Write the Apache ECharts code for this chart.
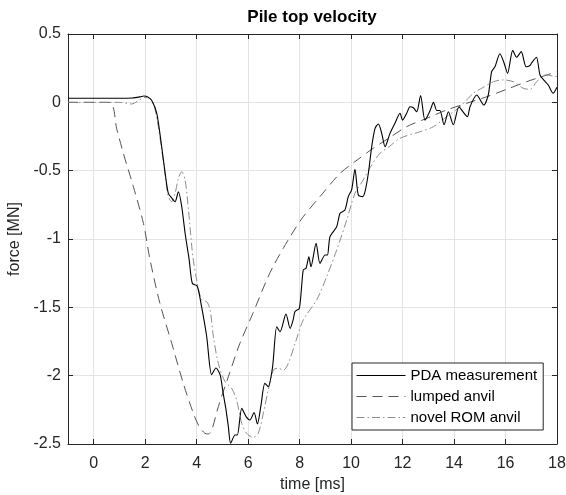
<!DOCTYPE html>
<html>
<head>
<meta charset="utf-8">
<script src="https://cdn.jsdelivr.net/npm/echarts@6/dist/echarts.min.js"></script>
<style>
  html, body { margin: 0; padding: 0; background: #fff; }
  #chart { width: 566px; height: 495px; }
</style>
</head>
<body>
<div id="chart"></div>
<script>
const timePDA = [-1, 0, 1, 1.5, 1.8, 1.95, 2.1, 2.25, 2.45, 2.64, 2.81, 2.9, 3.03, 3.16, 3.29, 3.42, 3.55, 3.71, 3.83, 4.02,
  4.19, 4.39, 4.58, 4.75, 4.91, 5.03, 5.14, 5.23, 5.32, 5.49, 5.58, 5.75, 5.92, 6.07, 6.23, 6.36, 6.49, 6.65, 6.78, 6.95,
  7.11, 7.24, 7.47, 7.63, 7.75, 7.82, 7.99, 8.14, 8.25, 8.36, 8.44, 8.64, 8.79, 8.99, 9.08, 9.18, 9.44, 9.57, 9.76, 9.89,
  10.02, 10.15, 10.28, 10.45, 10.54, 10.67, 10.8, 10.93, 11.06, 11.19, 11.32, 11.51, 11.7, 11.9, 12.0, 12.16, 12.29, 12.42, 12.55, 12.7,
  12.87, 13.07, 13.2, 13.33, 13.45, 13.61, 13.78, 13.97, 14.19, 14.35, 14.52, 14.62, 14.88, 15.16, 15.33, 15.46, 15.59, 15.78, 15.94, 16.08,
  16.28, 16.43, 16.61, 16.8, 16.95, 17.02, 17.2, 17.34, 17.5, 17.66, 17.85, 18];
const forcePDA = [0.03, 0.03, 0.03, 0.032, 0.04, 0.046, 0.04, 0.015, -0.08, -0.325, -0.568, -0.666, -0.7, -0.727, -0.654, -0.764, -0.958, -1.154, -1.324, -1.344,
  -1.495, -1.715, -1.993, -1.944, -1.993, -2.13, -2.25, -2.373, -2.495, -2.434, -2.434, -2.239, -2.3, -2.324, -2.27, -2.354, -2.227, -2.056, -2.08, -1.934,
  -1.642, -1.678, -1.549, -1.654, -1.59, -1.53, -1.507, -1.227, -1.214, -1.13, -1.203, -1.032, -1.178, -1.117, -1.117, -0.983, -0.91, -0.812, -0.788, -0.69,
  -0.641, -0.49, -0.678, -0.69, -0.654, -0.519, -0.325, -0.19, -0.159, -0.227, -0.325, -0.227, -0.154, -0.08, -0.13, -0.08, -0.032, -0.04, -0.069, 0.05,
  -0.13, -0.06, 0.0, -0.06, -0.06, -0.164, -0.069, -0.164, -0.032, -0.07, -0.105, -0.032, 0.054, -0.02, 0.054, 0.225, 0.26, 0.355, 0.29, 0.212,
  0.38, 0.33, 0.371, 0.26, 0.27, 0.29, 0.33, 0.2, 0.16, 0.127, 0.066, 0.11];

// lumped anvil model
const timeLumped = [-1, 0.6, 0.9, 1.15, 1.54, 1.93, 2.19, 2.57, 3.03, 3.48, 3.87, 4.1, 4.32, 4.45, 4.58, 4.84, 5.23, 5.68, 6.17, 6.72, 7.0,
  7.63, 8.14, 8.79, 9.57, 10.15, 10.86, 11.4, 12.16, 12.94, 13.71, 14.49, 15.27, 16.04, 16.82, 17.6, 18];
const forceLumped = [0, 0, -0.2, -0.373, -0.617, -0.885, -1.154, -1.47, -1.763, -2.056, -2.275, -2.373, -2.422, -2.427, -2.4, -2.227, -2.008, -1.763, -1.55, -1.3, -1.19,
  -0.983, -0.837, -0.69, -0.52, -0.434, -0.336, -0.27, -0.178, -0.117, -0.056, -0.007, 0.041, 0.095, 0.151, 0.2, 0.224];

// novel ROM anvil model
const timeROM = [-1, 1.0, 1.47, 1.8, 2.0, 2.15, 2.31, 2.51, 2.73, 2.9, 3.03, 3.16, 3.3, 3.42, 3.55, 3.68, 3.81, 3.87, 4.0, 4.19,
  4.39, 4.52, 4.65, 4.84, 5.1, 5.36, 5.55, 5.75, 5.94, 6.2, 6.39, 6.59, 6.78, 6.98, 7.17, 7.37, 7.56, 7.85, 8.14, 8.66,
  9.05, 9.44, 9.83, 10.15, 10.47, 10.8, 11.12, 11.45, 11.9, 12.68, 13.2, 13.71, 14.23, 14.75, 15.14, 15.53, 15.91, 16.3, 16.69, 16.95,
  17.21, 17.53, 18];
const forceROM = [0, 0, -0.012, 0.02, 0.036, 0.03, 0.0, -0.178, -0.47, -0.69, -0.727, -0.666, -0.55, -0.508, -0.568, -0.788, -1.056, -1.154, -1.3, -1.446,
  -1.459, -1.517, -1.715, -1.91, -2.044, -2.093, -2.178, -2.349, -2.422, -2.451, -2.422, -2.275, -2.105, -1.959, -1.946, -1.959, -1.91, -1.75, -1.593, -1.446,
  -1.276, -1.08, -0.861, -0.666, -0.568, -0.458, -0.373, -0.329, -0.263, -0.215, -0.178, -0.105, -0.032, 0.066, 0.11, 0.151, 0.164, 0.151, 0.103, 0.095,
  0.151, 0.2, 0.188];

const seriesNames = ['PDA measurement', 'lumped anvil', 'novel ROM anvil'];

const pairs = (xs, ys) => xs.map((x, i) => [x, ys[i]]);

const font = 'Liberation Sans, Arial, Helvetica, sans-serif';
const ink = '#262626';

const chart = echarts.init(document.getElementById('chart'));

const boxAxis = {
  axisLine: { show: true, onZero: false, lineStyle: { color: ink, width: 1 } },
  axisTick: { show: true, inside: true, length: 5, lineStyle: { color: ink } },
};

const option = {
  animation: false,
  backgroundColor: '#fff',
  title: {
    text: 'Pile top velocity',
    left: 312,
    textAlign: 'center',
    top: 9,
    padding: 0,
    textStyle: { fontFamily: font, fontSize: 17, fontWeight: 'bold', color: '#000' }
  },
  grid: { left: 68, right: 9, top: 34, bottom: 51, containLabel: false, outerBoundsMode: 'none' },
  legend: {
    data: seriesNames,
    orient: 'vertical',
    left: 352,
    top: 363,
    padding: [5, 6, 5, 4],
    itemGap: 6,
    itemWidth: 49,
    itemHeight: 14,
    borderColor: ink,
    borderWidth: 1,
    backgroundColor: '#fff',
    borderRadius: 0,
    itemStyle: { opacity: 0 },
    lineStyle: { width: 1 },
    textStyle: { fontFamily: font, fontSize: 15, color: '#000' }
  },
  xAxis: [
    Object.assign({
      type: 'value',
      position: 'bottom',
      min: -1,
      max: 18,
      splitNumber: 10,
      name: 'time [ms]',
      nameLocation: 'middle',
      nameGap: 33,
      nameTextStyle: { fontFamily: font, fontSize: 16, color: ink },
      axisLabel: {
        fontFamily: font, fontSize: 16, color: ink, margin: 12,
        formatter: v => (v === -1 ? '' : String(v))
      },
      splitLine: { show: true, lineStyle: { color: '#e3e3e3', width: 1 } }
    }, boxAxis),
    Object.assign({
      type: 'value',
      position: 'top',
      min: -1,
      max: 18,
      splitNumber: 10,
      axisLabel: { show: false },
      splitLine: { show: false }
    }, boxAxis)
  ],
  yAxis: [
    Object.assign({
      type: 'value',
      position: 'left',
      min: -2.5,
      max: 0.5,
      interval: 0.5,
      name: 'force [MN]',
      nameLocation: 'middle',
      nameGap: 45,
      nameTextStyle: { fontFamily: font, fontSize: 16, color: ink },
      axisLabel: { fontFamily: font, fontSize: 16, color: ink, margin: 7 },
      splitLine: { show: true, lineStyle: { color: '#e3e3e3', width: 1 } }
    }, boxAxis),
    Object.assign({
      type: 'value',
      position: 'right',
      min: -2.5,
      max: 0.5,
      interval: 0.5,
      axisLabel: { show: false },
      splitLine: { show: false }
    }, boxAxis)
  ],
  series: [
    {
      name: seriesNames[0],
      type: 'line',
      data: pairs(timePDA, forcePDA),
      symbol: 'none',
      smooth: 0.25,
      lineStyle: { color: '#000', width: 1.1 },
      itemStyle: { color: '#000' },
      z: 4
    },
    {
      name: seriesNames[1],
      type: 'line',
      data: pairs(timeLumped, forceLumped),
      symbol: 'none',
      smooth: 0.3,
      lineStyle: { color: '#555', width: 1, type: [10, 6] },
      itemStyle: { color: '#555' },
      z: 3
    },
    {
      name: seriesNames[2],
      type: 'line',
      data: pairs(timeROM, forceROM),
      symbol: 'none',
      smooth: 0.3,
      lineStyle: { color: '#8c8c8c', width: 1, type: [8, 3, 1.5, 3] },
      itemStyle: { color: '#8c8c8c' },
      z: 3
    }
  ]
};

chart.setOption(option);
</script>
</body>
</html>
